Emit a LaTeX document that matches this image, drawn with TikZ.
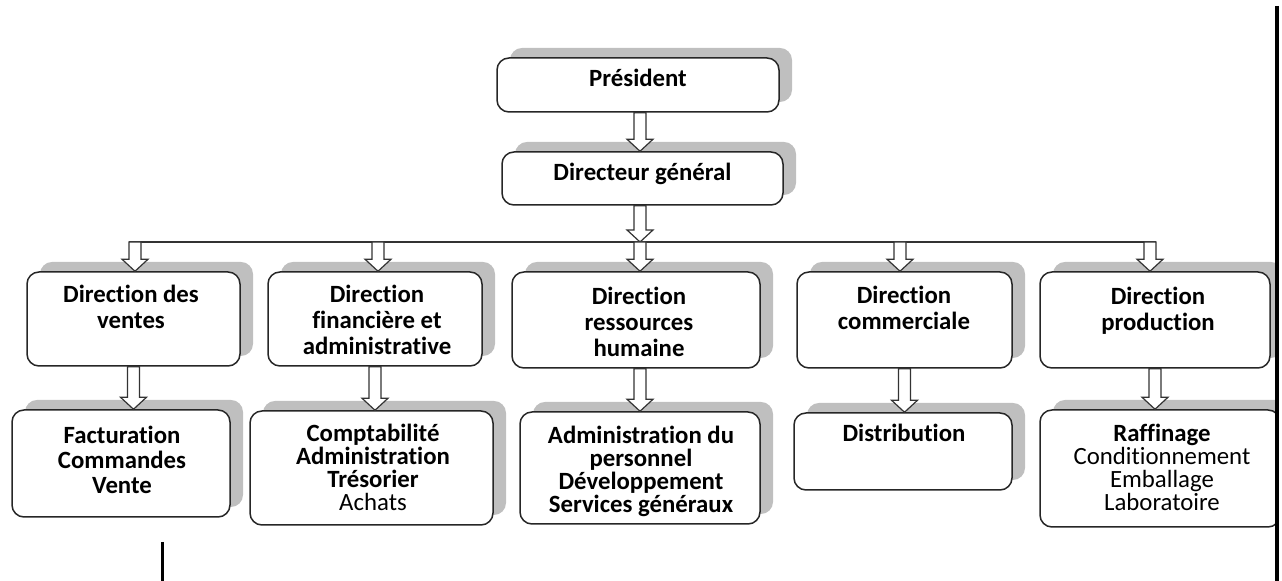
\documentclass[tikz,border=0pt]{standalone}
\usepackage{fontspec}
\setmainfont{Carlito}[Ligatures=NoCommon]
\usetikzlibrary{calc,shadows}

\tikzset{
  box/.style={draw=black!85, line width=0.75pt, rounded corners=6pt, fill=white,
    drop shadow={shadow xshift=6.5pt, shadow yshift=5pt, fill=black!25, opacity=1}},
  lbl/.style={anchor=north, align=center, inner sep=0pt, font=\bfseries\fontsize{12.4}{13}\selectfont},
  lblsub/.style={lbl, font=\bfseries\fontsize{12.4}{11.5}\selectfont},
  harr/.style={draw=black!80, fill=white, line width=0.6pt},
  bus/.style={draw=black!80, line width=0.6pt}
}

\newcommand{\harrow}[2]{%
  \path[harr] let \p1=(#1), \p2=(#2) in
    (\x1-3pt,\y1) -- (\x1+3pt,\y1) -- (\x1+3pt,\y2+6pt) -- (\x1+6.5pt,\y2+6pt)
    -- (\x1,\y2) -- (\x1-6.5pt,\y2+6pt) -- (\x1-3pt,\y2+6pt) -- cycle;}

\begin{document}
\begin{tikzpicture}[x=0.5pt, y=-0.5pt]
        \useasboundingbox (0,0) rectangle (1282,581);
        \begin{scope}
        \clip (0,0) rectangle (1278,581);

        \node[box, minimum width=141pt, minimum height=27pt] (pres) at (638,85) {};
        \node[lbl] (presT) at (638,69) {Président};
        \node[box, minimum width=140.5pt, minimum height=26.5pt] (dg) at (642.5,178.5) {};
        \node[lbl] (dgT) at (642.5,163) {Directeur général};

        \node[box, minimum width=106.5pt, minimum height=47pt] (ventes) at (133.5,319) {};
        \node[lbl] (ventesT) at (131,285) {Direction des\\ ventes};
        \node[box, minimum width=107pt, minimum height=47pt] (fin) at (375,319) {};
        \node[lbl] (finT) at (377,285) {Direction\\ financière et\\ administrative};
        \node[box, minimum width=124pt, minimum height=48pt] (rh) at (636,320) {};
        \node[lbl] (rhT) at (639,287) {Direction\\ ressources\\ humaine};
        \node[box, minimum width=107.5pt, minimum height=48pt] (com) at (904.5,320) {};
        \node[lbl] (comT) at (904,286) {Direction\\ commerciale};
        \node[box, minimum width=115pt, minimum height=48pt] (prod) at (1155,320) {};
        \node[lbl] (prodT) at (1158,287) {Direction\\ production};

        \node[box, minimum width=109pt, minimum height=53.5pt] (fact) at (121,463.5) {};
        \node[lbl, font=\bfseries\fontsize{12.4}{12.5}\selectfont] (factT) at (122,426) {Facturation\\ Commandes\\ Vente};
        \node[box, minimum width=121.5pt, minimum height=57pt] (compta) at (371.5,468) {};
        \node[lblsub] (comptaT) at (373,424) {Comptabilité\\ Administration\\ Trésorier\\ {\mdseries Achats}};
        \node[box, minimum width=120pt, minimum height=56pt] (admin) at (640,468) {};
        \node[lblsub] (adminT) at (641,426) {Administration du\\ personnel\\ Développement\\ Services généraux};
        \node[box, minimum width=109pt, minimum height=38.5pt] (distr) at (903,451.5) {};
        \node[lblsub] (distrT) at (904,424) {Distribution};
        \node[box, minimum width=120pt, minimum height=58.5pt] (raff) at (1160,468.5) {};
        \node[lblsub] (raffT) at (1162,424) {Raffinage\\ {\mdseries Conditionnement}\\ {\mdseries Emballage}\\ {\mdseries Laboratoire}};

        \coordinate (busL) at (129,242);
        \coordinate (busR) at (1156,242);
        \coordinate (busA) at (135,242);
        \coordinate (busB) at (378,242);
        \coordinate (busC) at (640,242);
        \coordinate (busD) at (900,242);
        \coordinate (busE) at (1150,242);
        \draw[bus] (busL) -- (busR);

        \harrow{pres.south -| busC}{dg.north -| busC}
        \harrow{dg.south -| busC}{busC}
        \harrow{busA}{ventes.north -| busA}
        \harrow{busB}{fin.north -| busB}
        \harrow{busC}{rh.north -| busC}
        \harrow{busD}{com.north -| busD}
        \harrow{busE}{prod.north -| busE}

        \harrow{ventes.south}{fact.north -| ventes.south}
        \harrow{fin.south}{compta.north -| fin.south}
        \harrow{rh.south -| admin.north}{admin.north}
        \harrow{com.south}{distr.north -| com.south}
        \harrow{prod.south}{raff.north -| prod.south}
        \end{scope}

        \coordinate (edgeT) at (1277,6);
        \coordinate (edgeB) at (1277,581);
        \draw[line width=2.4pt] (edgeT) -- (edgeB);
        \coordinate (markT) at (162,542);
        \coordinate (markB) at (162,581);
        \draw[line width=1.5pt] (markT) -- (markB);
\end{tikzpicture}
\end{document}
